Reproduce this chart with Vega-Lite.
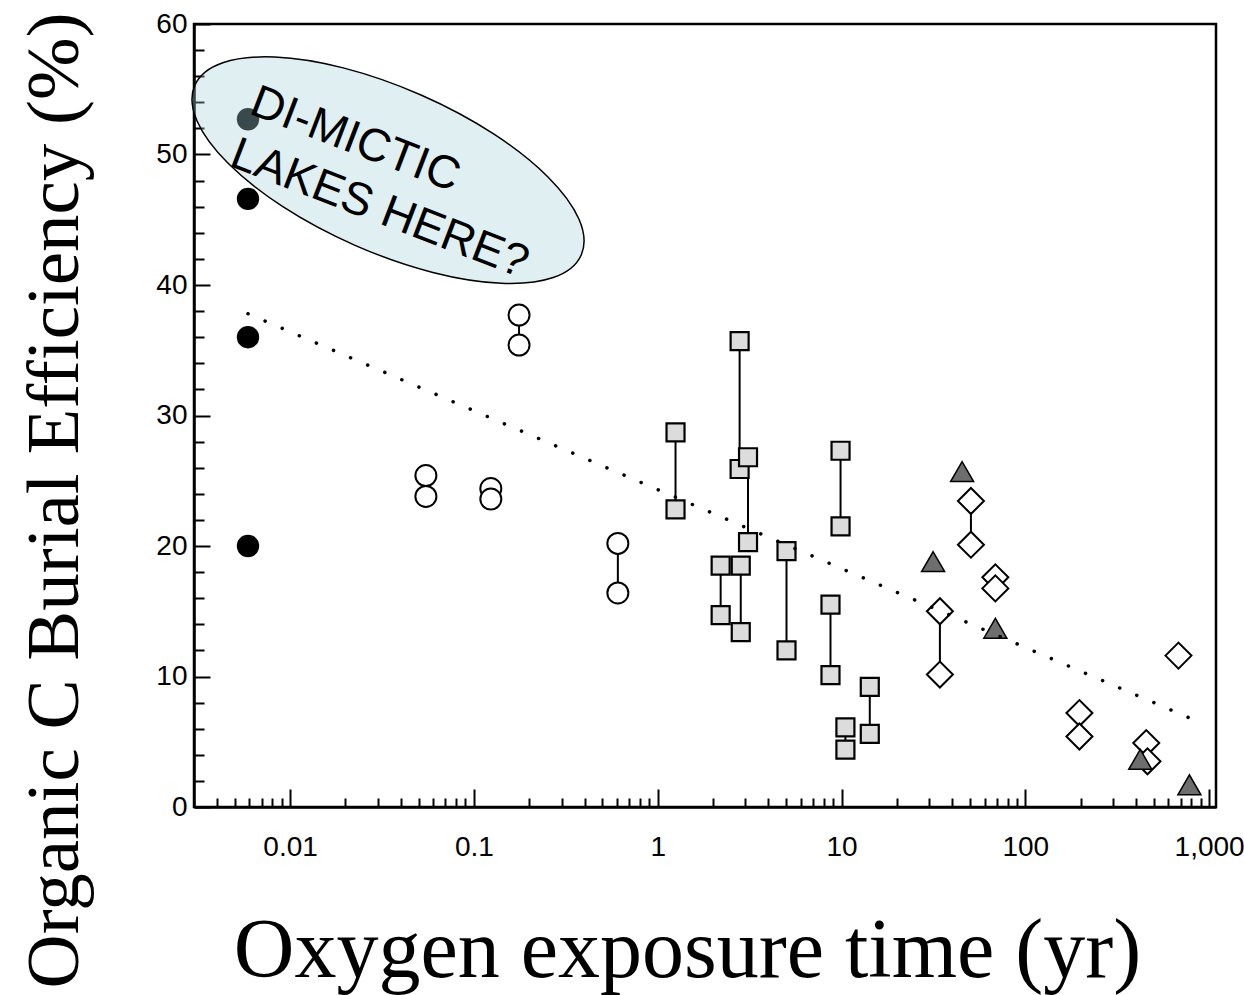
{
  "$schema": "https://vega.github.io/schema/vega-lite/v6.json",
  "width": 1022,
  "height": 783,
  "autosize": {"type": "none"},
  "padding": {"left": 194, "top": 24, "right": 28, "bottom": 188},
  "background": "white",
  "config": {
    "view": {"stroke": "black", "strokeWidth": 2.5},
    "axis": {
      "grid": false,
      "domainColor": "black",
      "domainWidth": 2.5,
      "tickColor": "black",
      "tickWidth": 2,
      "labelColor": "black",
      "labelFont": "Liberation Sans",
      "labelFontSize": 28,
      "titleColor": "black",
      "titleFont": "Liberation Serif",
      "titleFontWeight": "normal",
      "labelOverlap": false,
      "labelFlush": false,
      "labelBound": false
    }
  },
  "datasets": {
    "pts": [
      {"t": 0.0059, "e": 52.7, "g": "black"},
      {"t": 0.0059, "e": 46.6, "g": "black"},
      {"t": 0.0059, "e": 36.0, "g": "black"},
      {"t": 0.0059, "e": 20.0, "g": "black"},
      {"t": 0.0548, "e": 25.4, "g": "open", "p": "c1"},
      {"t": 0.0548, "e": 23.8, "g": "open", "p": "c1"},
      {"t": 0.1236, "e": 24.4, "g": "open", "p": "c2"},
      {"t": 0.1236, "e": 23.6, "g": "open", "p": "c2"},
      {"t": 0.176, "e": 37.7, "g": "open", "p": "c3"},
      {"t": 0.176, "e": 35.4, "g": "open", "p": "c3"},
      {"t": 0.607, "e": 20.2, "g": "open", "p": "c4"},
      {"t": 0.607, "e": 16.4, "g": "open", "p": "c4"},
      {"t": 1.25, "e": 28.7, "g": "square", "p": "s1"},
      {"t": 1.25, "e": 22.8, "g": "square", "p": "s1"},
      {"t": 2.79, "e": 35.7, "g": "square", "p": "s2"},
      {"t": 2.79, "e": 25.9, "g": "square", "p": "s2"},
      {"t": 3.1, "e": 26.8, "g": "square", "p": "s3"},
      {"t": 3.1, "e": 20.3, "g": "square", "p": "s3"},
      {"t": 2.2, "e": 18.5, "g": "square", "p": "s4"},
      {"t": 2.2, "e": 14.7, "g": "square", "p": "s4"},
      {"t": 2.83, "e": 18.5, "g": "square", "p": "s5"},
      {"t": 2.83, "e": 13.4, "g": "square", "p": "s5"},
      {"t": 5.02, "e": 19.6, "g": "square", "p": "s6"},
      {"t": 5.02, "e": 12.0, "g": "square", "p": "s6"},
      {"t": 9.88, "e": 27.3, "g": "square", "p": "s7"},
      {"t": 9.88, "e": 21.5, "g": "square", "p": "s7"},
      {"t": 8.71, "e": 15.5, "g": "square", "p": "s8"},
      {"t": 8.71, "e": 10.1, "g": "square", "p": "s8"},
      {"t": 14.25, "e": 9.2, "g": "square", "p": "s9"},
      {"t": 14.25, "e": 5.6, "g": "square", "p": "s9"},
      {"t": 10.5, "e": 6.1, "g": "square", "p": "s10"},
      {"t": 10.5, "e": 4.4, "g": "square", "p": "s10"},
      {"t": 50.6, "e": 23.45, "g": "diamond", "p": "d1"},
      {"t": 50.6, "e": 20.1, "g": "diamond", "p": "d1"},
      {"t": 68.7, "e": 17.6, "g": "diamond"},
      {"t": 68.7, "e": 16.75, "g": "diamond"},
      {"t": 34.3, "e": 15.0, "g": "diamond", "p": "d3"},
      {"t": 34.3, "e": 10.15, "g": "diamond", "p": "d3"},
      {"t": 681, "e": 11.6, "g": "diamond"},
      {"t": 197, "e": 7.2, "g": "diamond", "p": "d5"},
      {"t": 197, "e": 5.4, "g": "diamond", "p": "d5"},
      {"t": 455, "e": 4.9, "g": "diamond"},
      {"t": 462, "e": 3.5, "g": "diamond"},
      {"t": 45.3, "e": 25.7, "g": "triangle"},
      {"t": 31.5, "e": 18.8, "g": "triangle"},
      {"t": 68.7, "e": 13.7, "g": "triangle"},
      {"t": 422, "e": 3.65, "g": "triangle"},
      {"t": 781, "e": 1.7, "g": "triangle"}
    ],
    "fit": [
      {"t": 0.0059, "e": 37.8},
      {"t": 789, "e": 6.8}
    ],
    "note": [
      {"t": 0.0341, "e": 48.8}
    ],
    "notetext": [
      {"t": 0.00589, "e": 53.16, "label": "DI-MICTIC\nLAKES HERE?"}
    ]
  },
  "encoding": {
    "x": {
      "field": "t",
      "type": "quantitative",
      "scale": {"type": "log", "domain": [0.003, 1090], "nice": false},
      "axis": {
        "values": [0.004, 0.005, 0.006, 0.007, 0.008, 0.009, 0.01, 0.02, 0.03, 0.04, 0.05, 0.06, 0.07, 0.08, 0.09, 0.1, 0.2, 0.3, 0.4, 0.5, 0.6, 0.7, 0.8, 0.9, 1, 2, 3, 4, 5, 6, 7, 8, 9, 10, 20, 30, 40, 50, 60, 70, 80, 90, 100, 200, 300, 400, 500, 600, 700, 800, 900, 1000],
        "format": ",~g",
        "labelExpr": "abs(log(datum.value)/LN10 - round(log(datum.value)/LN10)) < 0.001 ? datum.label : ''",
        "tickSize": {"condition": {"test": "abs(log(datum.value)/LN10 - round(log(datum.value)/LN10)) < 0.001", "value": -18}, "value": -9},
        "labelPadding": 44,
        "title": "Oxygen exposure time (yr)",
        "titleFontSize": 84,
        "titleX": 493,
        "titleY": 169,
        "titleAlign": "center",
        "titleBaseline": "alphabetic"
      }
    },
    "y": {
      "field": "e",
      "type": "quantitative",
      "scale": {"domain": [0, 60], "nice": false},
      "axis": {
        "values": [0, 2, 4, 6, 8, 10, 12, 14, 16, 18, 20, 22, 24, 26, 28, 30, 32, 34, 36, 38, 40, 42, 44, 46, 48, 50, 52, 54, 56, 58, 60],
        "labelExpr": "datum.value % 10 === 0 ? datum.label : ''",
        "tickSize": {"condition": {"test": "datum.value % 10 === 0", "value": -16}, "value": -10},
        "labelPadding": 23,
        "title": "Organic C Burial Efficiency (%)",
        "titleFontSize": 75,
        "titleAngle": -90,
        "titleX": -117,
        "titleY": 476,
        "titleAlign": "center",
        "titleBaseline": "alphabetic"
      }
    }
  },
  "layer": [
    {
      "data": {"name": "pts"},
      "transform": [
        {"filter": "isValid(datum.p)"},
        {"aggregate": [{"op": "min", "field": "e", "as": "e"}, {"op": "max", "field": "e", "as": "e2"}], "groupby": ["p", "t"]}
      ],
      "mark": {"type": "rule", "color": "black", "strokeWidth": 2},
      "encoding": {"y2": {"field": "e2"}}
    },
    {
      "data": {"name": "pts"},
      "transform": [{"filter": "datum.g === 'black'"}],
      "mark": {"type": "point", "shape": "circle", "size": 500, "filled": true, "fill": "black", "strokeWidth": 0, "opacity": 1}
    },
    {
      "data": {"name": "pts"},
      "transform": [{"filter": "datum.g === 'open'"}],
      "mark": {"type": "point", "shape": "circle", "size": 441, "fill": "white", "stroke": "black", "strokeWidth": 2, "opacity": 1}
    },
    {
      "data": {"name": "pts"},
      "transform": [{"filter": "datum.g === 'square'"}],
      "mark": {"type": "point", "shape": "square", "size": 324, "fill": "#dcdcdc", "stroke": "black", "strokeWidth": 2.2, "opacity": 1}
    },
    {
      "data": {"name": "pts"},
      "transform": [{"filter": "datum.g === 'diamond'"}],
      "mark": {"type": "point", "shape": "diamond", "size": 676, "fill": "white", "stroke": "black", "strokeWidth": 2, "opacity": 1}
    },
    {
      "data": {"name": "pts"},
      "transform": [{"filter": "datum.g === 'triangle'"}],
      "mark": {"type": "point", "shape": "triangle-up", "size": 529, "fill": "#6e6e6e", "stroke": "black", "strokeWidth": 1.5, "opacity": 1}
    },
    {
      "data": {"name": "fit"},
      "mark": {"type": "line", "color": "black", "strokeWidth": 3.5, "strokeCap": "round", "strokeDash": [0.1, 18.5]}
    },
    {
      "data": {"name": "note"},
      "mark": {
        "type": "point",
        "shape": "M0.9157,0.4019 C0.8294,0.5986 0.3494,0.5782 -0.1563,0.3562 C-0.6620,0.1342 -1.0020,-0.2052 -0.9157,-0.4019 C-0.8294,-0.5986 -0.3494,-0.5782 0.1563,-0.3562 C0.6620,-0.1342 1.0020,0.2052 0.9157,0.4019 Z",
        "size": 178084,
        "fill": "#a6d4da",
        "fillOpacity": 0.35,
        "stroke": "black",
        "strokeWidth": 1.5,
        "opacity": 1
      }
    },
    {
      "data": {"name": "notetext"},
      "mark": {"type": "text", "font": "Liberation Sans", "fontSize": 46, "angle": 21, "align": "left", "baseline": "alphabetic", "lineBreak": "\n", "lineHeight": 56, "color": "black"},
      "encoding": {"text": {"field": "label"}}
    }
  ]
}
